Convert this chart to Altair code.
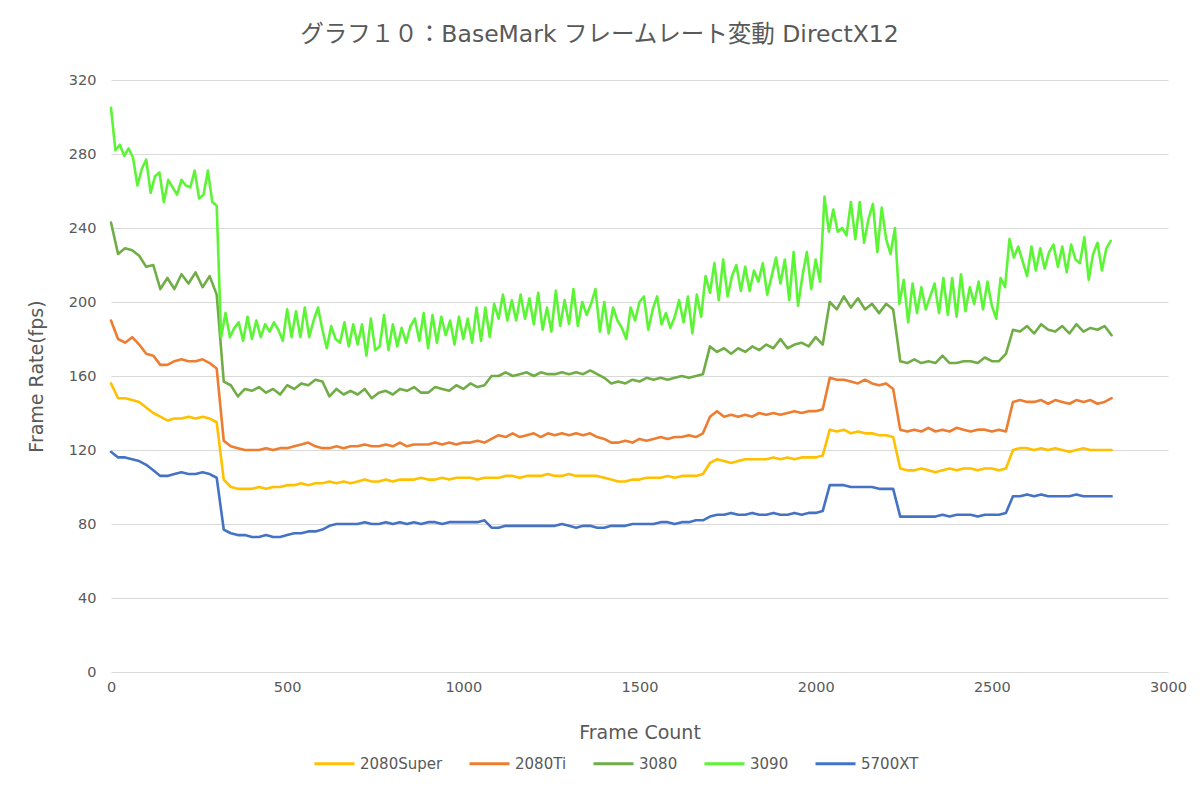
import altair as alt
import numpy as np
import pandas as pd

SERIES = ["2080Super", "2080Ti", "3080", "3090", "5700XT"]
COLORS = ["#FFC000", "#ED7D31", "#70AD47", "#5CF535", "#4472C4"]

FRAMES_3090 = np.arange(0, 2840, 12.5)
FPS_3090 = [
    305, 282, 285, 279, 283, 278, 263, 272, 277, 259, 268, 270, 254, 266, 262, 258,
    266, 263, 262, 271, 256, 258, 271, 254, 252, 181, 194, 181, 186, 189, 179, 192,
    180, 190, 181, 188, 184, 189, 185, 179, 196, 181, 195, 181, 197, 181, 190, 197,
    185, 175, 187, 180, 178, 189, 176, 188, 177, 188, 171, 191, 174, 176, 193, 174,
    188, 176, 186, 178, 187, 191, 179, 194, 175, 193, 178, 192, 182, 190, 177, 192,
    180, 191, 178, 197, 179, 197, 181, 199, 191, 204, 190, 201, 190, 204, 191, 202,
    188, 205, 185, 197, 184, 206, 187, 201, 188, 207, 187, 200, 193, 199, 207, 184,
    200, 183, 197, 190, 186, 180, 197, 190, 200, 203, 185, 196, 203, 188, 194, 186,
    192, 201, 189, 203, 183, 204, 192, 214, 205, 221, 201, 223, 203, 214, 220, 206,
    219, 206, 217, 211, 221, 204, 214, 224, 210, 223, 201, 227, 198, 214, 227, 207,
    223, 211, 257, 238, 250, 238, 240, 236, 254, 234, 254, 232, 245, 253, 227, 251,
    234, 226, 240, 199, 212, 189, 210, 194, 208, 196, 203, 210, 194, 213, 193, 213,
    192, 215, 195, 208, 199, 211, 196, 211, 198, 191, 213, 208, 234, 224, 230, 222,
    214, 230, 217, 229, 218, 227, 231, 219, 230, 216, 231, 223, 221, 235, 212, 226,
    232, 217, 229, 233,
]

# other cards: sampled every 20 frames
FRAMES_20 = np.arange(0, 2841, 20)
FPS_3080 = [
    243, 226, 229, 228, 225, 219, 220, 207, 213, 207, 215, 210, 216, 208, 214, 204,
    157, 155, 149, 153, 152, 154, 151, 153, 150, 155, 153, 156, 155, 158, 157, 149,
    153, 150, 152, 150, 153, 148, 151, 152, 150, 153, 152, 154, 151, 151, 154, 153,
    152, 155, 153, 156, 154, 155, 160, 160, 162, 160, 161, 162, 160, 162, 161, 161,
    162, 161, 162, 161, 163, 161, 159, 156, 157, 156, 158, 157, 159, 158, 159, 158,
    159, 160, 159, 160, 161, 176, 173, 175, 172, 175, 173, 176, 174, 177, 175, 180,
    175, 177, 178, 176, 181, 177, 200, 196, 203, 197, 202, 196, 199, 194, 199, 196,
    168, 167, 169, 167, 168, 167, 171, 167, 167, 168, 168, 167, 170, 168, 168, 172,
    185, 184, 187, 183, 188, 185, 184, 187, 183, 188, 184, 186, 185, 187, 182,
]
FPS_2080TI = [
    190, 180, 178, 181, 177, 172, 171, 166, 166, 168, 169, 168, 168, 169, 167, 164,
    125, 122, 121, 120, 120, 120, 121, 120, 121, 121, 122, 123, 124, 122, 121, 121,
    122, 121, 122, 122, 123, 122, 122, 123, 122, 124, 122, 123, 123, 123, 124, 123,
    124, 123, 124, 124, 125, 124, 126, 128, 127, 129, 127, 128, 129, 127, 129, 128,
    129, 128, 129, 128, 129, 127, 126, 124, 124, 125, 124, 126, 125, 126, 127, 126,
    127, 127, 128, 127, 129, 138, 141, 138, 139, 138, 139, 138, 140, 139, 140, 139,
    140, 141, 140, 141, 141, 142, 159, 158, 158, 157, 156, 158, 156, 155, 156, 153,
    131, 130, 131, 130, 132, 130, 131, 130, 132, 131, 130, 131, 131, 130, 131, 130,
    146, 147, 146, 146, 147, 145, 147, 146, 145, 147, 146, 147, 145, 146, 148,
]
FPS_2080SUPER = [
    156, 148, 148, 147, 146, 143, 140, 138, 136, 137, 137, 138, 137, 138, 137, 135,
    104, 100, 99, 99, 99, 100, 99, 100, 100, 101, 101, 102, 101, 102, 102, 103,
    102, 103, 102, 103, 104, 103, 103, 104, 103, 104, 104, 104, 105, 104, 104, 105,
    104, 105, 105, 105, 104, 105, 105, 105, 106, 106, 105, 106, 106, 106, 107, 106,
    106, 107, 106, 106, 106, 106, 105, 104, 103, 103, 104, 104, 105, 105, 105, 106,
    105, 106, 106, 106, 107, 113, 115, 114, 113, 114, 115, 115, 115, 115, 116, 115,
    116, 115, 116, 116, 116, 117, 131, 130, 131, 129, 130, 129, 129, 128, 128, 127,
    110, 109, 109, 110, 109, 108, 109, 110, 109, 110, 110, 109, 110, 110, 109, 110,
    120, 121, 121, 120, 121, 120, 121, 120, 119, 120, 121, 120, 120, 120, 120,
]
FPS_5700XT = [
    119, 116, 116, 115, 114, 112, 109, 106, 106, 107, 108, 107, 107, 108, 107, 105,
    77, 75, 74, 74, 73, 73, 74, 73, 73, 74, 75, 75, 76, 76, 77, 79,
    80, 80, 80, 80, 81, 80, 80, 81, 80, 81, 80, 81, 80, 81, 81, 80,
    81, 81, 81, 81, 81, 82, 78, 78, 79, 79, 79, 79, 79, 79, 79, 79,
    80, 79, 78, 79, 79, 78, 78, 79, 79, 79, 80, 80, 80, 80, 81, 81,
    80, 81, 81, 82, 82, 84, 85, 85, 86, 85, 85, 86, 85, 85, 86, 85,
    85, 86, 85, 86, 86, 87, 101, 101, 101, 100, 100, 100, 100, 99, 99, 99,
    84, 84, 84, 84, 84, 84, 85, 84, 85, 85, 85, 84, 85, 85, 85, 86,
    95, 95, 96, 95, 96, 95, 95, 95, 95, 96, 95, 95, 95, 95, 95,
]

X_TICKS = [0, 500, 1000, 1500, 2000, 2500, 3000]
Y_TICKS = [0, 40, 80, 120, 160, 200, 240, 280, 320]

frames = []
for name, vals in [("2080Super", FPS_2080SUPER), ("2080Ti", FPS_2080TI),
                   ("3080", FPS_3080), ("5700XT", FPS_5700XT)]:
    frames.append(pd.DataFrame({"frame": FRAMES_20, "fps": vals, "series": name}))
frames.append(pd.DataFrame({"frame": FRAMES_3090, "fps": FPS_3090, "series": "3090"}))
df = pd.concat(frames, ignore_index=True)

FONT = "DejaVu Sans, Noto Sans CJK JP"
TXT = "#595959"

chart = alt.Chart(df).mark_line(
    strokeWidth=2.6, strokeJoin="round", strokeCap="round"
).encode(
    x=alt.X("frame:Q",
            scale=alt.Scale(domain=[0, 3000], nice=False, zero=False),
            axis=alt.Axis(values=X_TICKS, format="d", title="Frame Count", grid=False,
                          ticks=False, domain=False, labelPadding=8,
                          labelFontSize=14.5, labelColor=TXT, labelFont=FONT,
                          titleFontSize=19, titleColor=TXT, titleFont=FONT,
                          titleFontWeight="normal", titlePadding=30,
                          labelFlush=False)),
    y=alt.Y("fps:Q",
            scale=alt.Scale(domain=[0, 320], nice=False),
            axis=alt.Axis(values=Y_TICKS, title="Frame Rate(fps)", grid=True,
                          gridColor="#D9D9D9", gridWidth=1.2,
                          ticks=False, domain=False, labelPadding=15,
                          labelFontSize=14.5, labelColor=TXT, labelFont=FONT,
                          titleFontSize=19, titleColor=TXT, titleFont=FONT,
                          titleFontWeight="normal", titlePadding=22)),
    color=alt.Color("series:N",
                    scale=alt.Scale(domain=SERIES, range=COLORS),
                    sort=SERIES,
                    legend=alt.Legend(title=None, orient="none", direction="horizontal",
                                      legendX=202, legendY=662,
                                      symbolType="stroke", symbolSize=1600,
                                      symbolStrokeWidth=3, labelFontSize=15,
                                      labelColor=TXT, labelFont=FONT,
                                      labelOffset=4, columnPadding=20)),
    detail="series:N",
).properties(
    width=1057,
    height=592,
    autosize="none",
    padding={"left": 103, "top": 72, "right": 20, "bottom": 110},
    title=alt.TitleParams(
        "グラフ１０：BaseMark フレームレート変動 DirectX12",
        fontSize=23.5, font=FONT, color=TXT, fontWeight="normal",
        anchor="middle", dx=-40, offset=26,
    ),
).configure_view(stroke=None)

chart.save("out.html", embed_options={"renderer": "svg", "actions": False})
